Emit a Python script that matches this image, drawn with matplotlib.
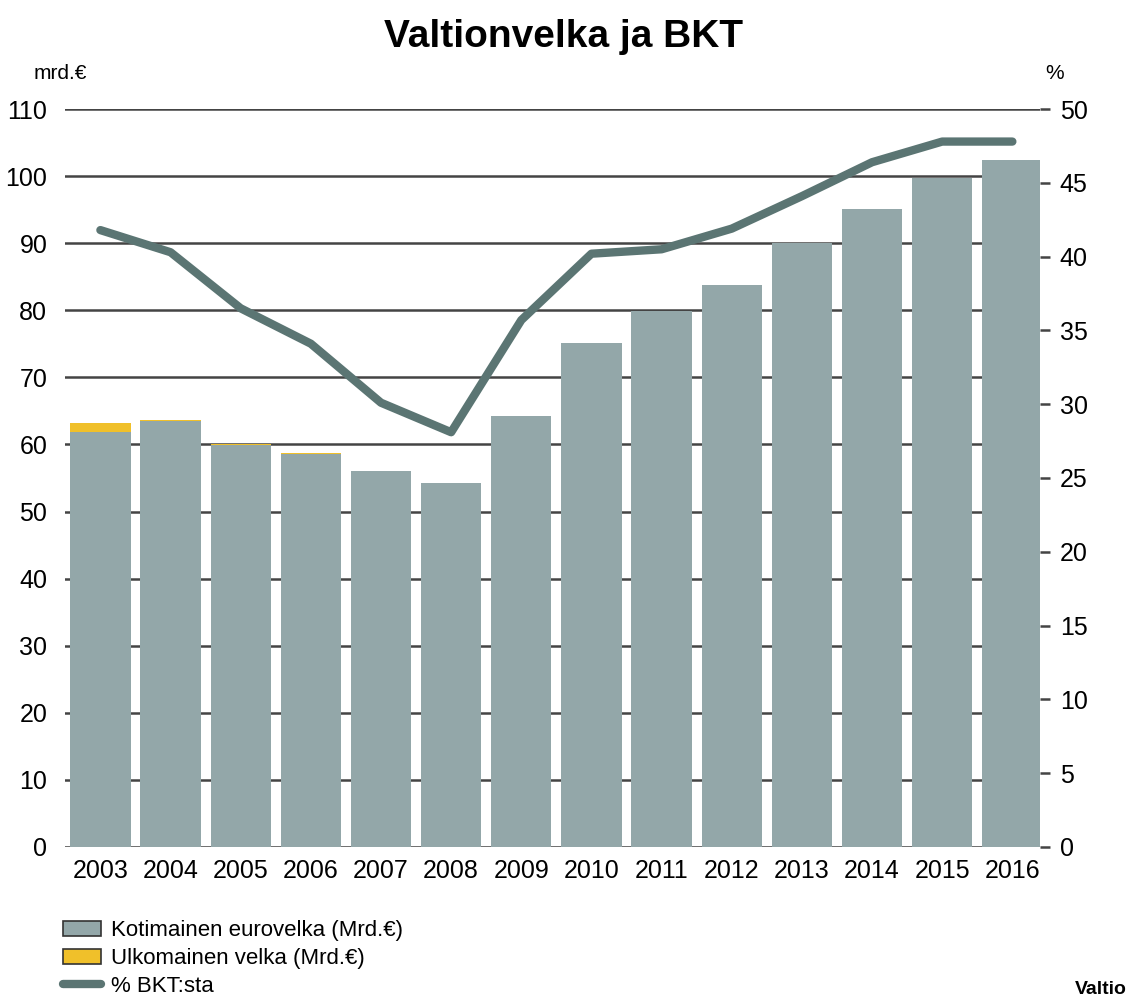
import numpy as np
import matplotlib.pyplot as plt

plt.rcParams['font.family'] = ['Liberation Sans', 'DejaVu Sans']

vuodet = ['2003', '2004', '2005', '2006', '2007', '2008', '2009',
          '2010', '2011', '2012', '2013', '2014', '2015', '2016']
kotimainen = [61.8, 63.5, 59.9, 58.6, 56.0, 54.2, 64.2,
              75.1, 79.9, 83.8, 90.0, 95.1, 99.8, 102.4]
ulkomainen = [1.4, 0.12, 0.1, 0.1, 0.0, 0.0, 0.0,
              0.0, 0.0, 0.0, 0.0, 0.0, 0.0, 0.0]
bkt_pros = [41.8, 40.3, 36.5, 34.1, 30.1, 28.1, 35.7,
            40.2, 40.5, 41.9, 44.1, 46.4, 47.8, 47.8]

harmaa = '#93a7a9'
keltainen = '#f0c02a'
viiva = '#5b7573'

fig = plt.figure(figsize=(11.26, 10.01), dpi=100)
ax = fig.add_axes([0.058, 0.154, 0.866, 0.737])
x = np.arange(len(vuodet))

for y in range(0, 111, 10):
    ax.axhline(y, color='#444444', lw=1.8, zorder=1)
ax.bar(x, kotimainen, width=0.86, color=harmaa, zorder=2, label='Kotimainen eurovelka (Mrd.€)')
ax.bar(x, ulkomainen, width=0.86, bottom=kotimainen, color=keltainen, zorder=2,
       label='Ulkomainen velka (Mrd.€)')
ax.set_ylim(0, 110)
ax.set_xlim(-0.5, 13.4)
ax.set_yticks(range(0, 111, 10))
ax.set_xticks(x)
ax.set_xticklabels(vuodet)
for s in ax.spines.values():
    s.set_visible(False)
ax.tick_params(axis='y', length=0, labelsize=18, pad=13)
ax.tick_params(axis='x', length=0, labelsize=18, pad=9)

ax2 = ax.twinx()
ax2.plot(x, bkt_pros, color=viiva, lw=6, solid_capstyle='round', zorder=3, label='% BKT:sta')
ax2.set_ylim(0, 50)
ax2.set_yticks(range(0, 51, 5))
for s in ax2.spines.values():
    s.set_visible(False)
ax2.tick_params(axis='y', length=7, width=1.8, color='#444444', labelsize=18, pad=7)

fig.text(0.5, 0.963, 'Valtionvelka ja BKT', ha='center', va='center', fontsize=28, fontweight='bold')
fig.text(0.030, 0.927, 'mrd.€', ha='left', va='center', fontsize=15)
fig.text(0.928, 0.927, '%', ha='left', va='center', fontsize=15)
fig.text(0.955, 0.003, 'Valtio', ha='left', va='bottom', fontsize=14, fontweight='bold')

h1, l1 = ax.get_legend_handles_labels()
h2, l2 = ax2.get_legend_handles_labels()
leg = fig.legend(h1 + h2, l1 + l2, loc='lower left', bbox_to_anchor=(0.052, 0.0),
                 frameon=False, fontsize=16, handlelength=1.7, handleheight=0.65,
                 labelspacing=0.3, handletextpad=0.45, borderpad=0.2, borderaxespad=0)
for p in leg.get_patches():
    p.set_edgecolor('#333333')
    p.set_linewidth(1.2)

fig.savefig('out.png', dpi=100)
